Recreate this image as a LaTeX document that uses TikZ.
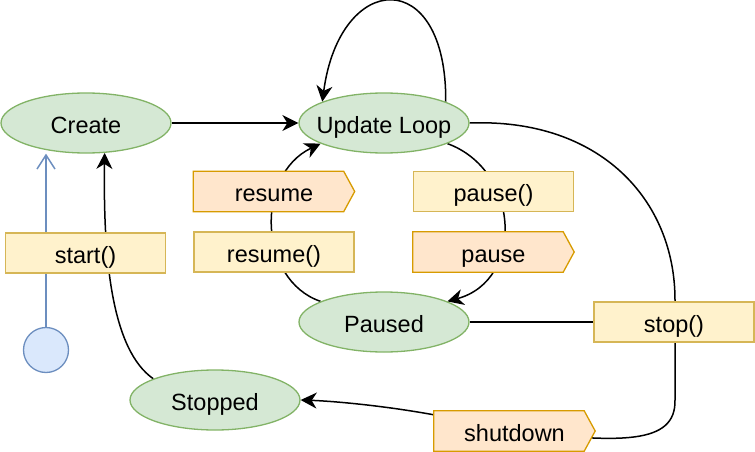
\documentclass[tikz,border=0pt]{standalone}
\usepackage{fontspec}
\setmainfont{Liberation Sans}
\usetikzlibrary{arrows.meta,shapes.geometric}
\definecolor{gfill}{HTML}{D5E8D4}
\definecolor{gline}{HTML}{82B366}
\definecolor{yfill}{HTML}{FFF2CC}
\definecolor{yline}{HTML}{D6B656}
\definecolor{ofill}{HTML}{FFE6CC}
\definecolor{oline}{HTML}{D79B00}
\definecolor{bfill}{HTML}{DAE8FC}
\definecolor{bline}{HTML}{6C8EBF}
\pgfdeclarelayer{edgelayer}
\pgfdeclarelayer{evlayer}
\pgfsetlayers{edgelayer,evlayer,main}
\newcommand\evpoly[1]{%
  \begin{pgfonlayer}{evlayer}
  \path[evshape] (#1.north west) -- ([xshift=-11pt]#1.north east) -- (#1.east)
    -- ([xshift=-11pt]#1.south east) -- (#1.south west) -- cycle;
  \end{pgfonlayer}}
\begin{document}
\begin{tikzpicture}[x=1pt,y=-1pt,
  every node/.style={font=\fontsize{23.5}{28}\selectfont, inner sep=0pt,
    text height=20pt, text depth=0pt},
  state/.style={ellipse, draw=gline, fill=gfill, line width=1.3pt,
    minimum width=170pt, minimum height=60pt, inner xsep=-30pt},
  fnbox/.style={rectangle, draw=yline, fill=yfill, line width=1.3pt,
    minimum width=160pt, minimum height=40pt},
  evbox/.style={rectangle, minimum width=161pt, minimum height=40pt},
  evshape/.style={draw=oline, fill=ofill, line width=1.3pt, line join=miter},
  initst/.style={circle, draw=bline, fill=bfill, line width=1.3pt, minimum size=45pt},
  flow/.style={draw=black, line width=1.5pt, -{Stealth[length=16pt,width=16pt,inset=5pt]}},
  plainline/.style={draw=black, line width=1.5pt},
  initline/.style={draw=bline, line width=1.5pt, -{Straight Barb[length=14pt,width=18pt]}}]
\useasboundingbox (0,0) rectangle (755,452);

% states
\node[state] (create) at (86,123) {Create};
\node[state] (upd) at (384,123) {Update Loop};
\node[state] (paused) at (384,322) {Paused};
\node[state] (stopped) at (215,400) {Stopped};
\node[initst] (init) at (46,350) {};

% labels
\node[fnbox] (startfn) at (85.5,253) {start()};
\node[evbox] (resumeev) at (274,191.5) {resume};
\node[fnbox] (resumefn) at (274,252) {resume()};
\node[fnbox] (pausefn) at (493.5,191.5) {pause()};
\node[evbox] (pauseev) at (493.5,252) {pause};
\node[fnbox] (stopfn) at (674,322) {stop()};
\node[evbox] (shutdownev) at (514.5,431) {shutdown};
\evpoly{resumeev}
\evpoly{pauseev}
\evpoly{shutdownev}

% connectors
\begin{pgfonlayer}{edgelayer}
\draw[initline] (init.north) -- (init.north |- create.south);
\draw[flow] (create) -- (upd);
\draw[flow] (upd.19) .. controls (447,-35) and (340,-30) .. (upd.161);
\draw[flow] (upd.-18) .. controls (520,170) and (525,280) .. (paused.18);
\draw[flow] (paused.162) .. controls (258,280) and (255,175) .. (upd.198);
\draw[plainline] (upd.east) .. controls (600,118) and (675,200) .. (675,300)
  -- (675,400) .. controls (676,445) and (620,443) .. (shutdownev.center);
\draw[flow] ([yshift=-4pt]shutdownev.north west) .. controls (380,405) and (330,401) .. (stopped.east);
\draw[plainline] (paused.east) -- (stopfn.west);
\draw[flow] (stopped.161) .. controls (112,350) and (103,260) .. (create.-58);
\end{pgfonlayer}
\end{tikzpicture}
\end{document}
